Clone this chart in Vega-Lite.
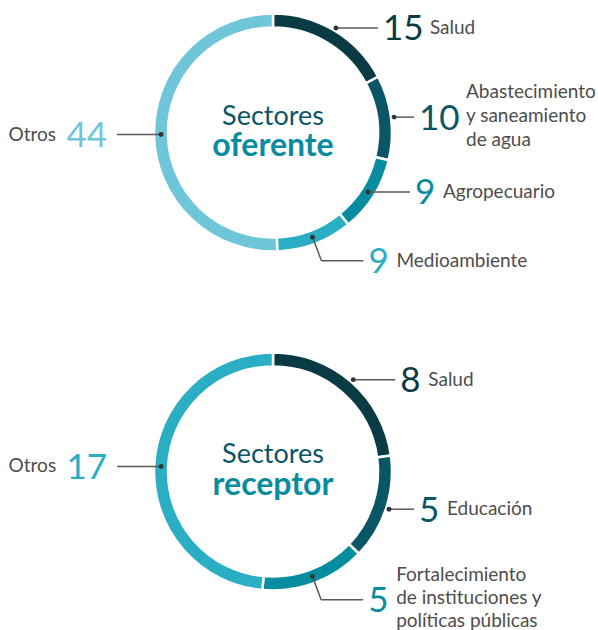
{
  "$schema": "https://vega.github.io/schema/vega-lite/v6.json",
  "padding": 0,
  "spacing": 10,
  "config": {"view": {"stroke": null}, "font": "Lato", "text": {"font": "Lato"}},
  "datasets": {
    "sectores": [
      {"grafico": "oferente", "orden": 1, "sector": "Salud", "valor": 15, "etiqueta": "Salud"},
      {"grafico": "oferente", "orden": 2, "sector": "Abastecimiento y saneamiento de agua", "valor": 10, "etiqueta": "Abastecimiento\ny saneamiento\nde agua"},
      {"grafico": "oferente", "orden": 3, "sector": "Agropecuario", "valor": 9, "etiqueta": "Agropecuario"},
      {"grafico": "oferente", "orden": 4, "sector": "Medioambiente", "valor": 9, "etiqueta": "Medioambiente"},
      {"grafico": "oferente", "orden": 5, "sector": "Otros", "valor": 44, "etiqueta": "Otros"},
      {"grafico": "receptor", "orden": 1, "sector": "Salud", "valor": 8, "etiqueta": "Salud"},
      {"grafico": "receptor", "orden": 2, "sector": "Educación", "valor": 5, "etiqueta": "Educación"},
      {"grafico": "receptor", "orden": 3, "sector": "Fortalecimiento de instituciones y políticas públicas", "valor": 5, "etiqueta": "Fortalecimiento\nde instituciones y\npolíticas públicas"},
      {"grafico": "receptor", "orden": 4, "sector": "Otros", "valor": 17, "etiqueta": "Otros"}
    ]
  },
  "vconcat": [
    {
      "width": 546,
      "height": 280,
      "data": {"name": "sectores"},
      "transform": [
        {"filter": "datum.grafico == 'oferente'"},
        {"joinaggregate": [{"op": "sum", "field": "valor", "as": "total"}]},
        {"window": [{"op": "sum", "field": "valor", "as": "acum"}], "sort": [{"field": "orden"}], "frame": [null, 0]},
        {"calculate": "(datum.acum - datum.valor / 2) / datum.total * 2 * PI", "as": "ang"},
        {"calculate": "datum.ang < 2 ? 122 : 112", "as": "rp"},
        {"calculate": "datum.rp * sin(datum.ang)", "as": "px"},
        {"calculate": "-datum.rp * cos(datum.ang)", "as": "py"},
        {"calculate": "cos(datum.ang) < -0.75", "as": "codo"},
        {"calculate": "datum.codo ? 137 * sin(datum.ang) : datum.px", "as": "cx"},
        {"calculate": "datum.codo ? -137 * cos(datum.ang) : datum.py", "as": "cy"},
        {"calculate": "sin(datum.ang) >= 0 ? 1 : -1", "as": "lado"},
        {"calculate": "datum.lado > 0 ? min(datum.cx + 42, 141) : datum.cx - 44", "as": "fx"},
        {"calculate": "datum.fx + (datum.lado > 0 ? 5 : -10)", "as": "nx"},
        {"calculate": "datum.nx + datum.lado * (length(toString(datum.valor)) * 19 + (datum.lado > 0 ? 9 : 13))", "as": "lx"},
        {"calculate": "datum.cy - (length(split(datum.etiqueta, '\\n')) - 1) * 12.5", "as": "ly"}
      ],
      "layer": [
        {
          "mark": {"type": "arc", "outerRadius": 119, "innerRadius": 105, "stroke": "white", "strokeWidth": 2.5},
          "encoding": {
            "x": {"datum": 0, "type": "quantitative", "axis": null, "scale": {"domain": [-273, 273], "nice": false, "zero": false}},
            "y": {"datum": 0, "type": "quantitative", "axis": null, "scale": {"domain": [-132.5, 147.5], "reverse": true, "nice": false, "zero": false}},
            "theta": {"field": "valor", "type": "quantitative", "stack": true},
            "order": {"field": "orden", "type": "quantitative"},
            "color": {"field": "orden", "type": "ordinal", "legend": null, "scale": {"domain": [1, 2, 3, 4, 5], "range": ["#0a3b45", "#0b5666", "#078d9f", "#29aec4", "#6ec6d8"]}}
          }
        },
        {
          "mark": {"type": "rule", "color": "#5a5a5a", "strokeWidth": 1.5},
          "encoding": {
            "x": {"field": "px", "type": "quantitative", "axis": null},
            "y": {"field": "py", "type": "quantitative", "axis": null},
            "x2": {"field": "cx"},
            "y2": {"field": "cy"}
          }
        },
        {
          "mark": {"type": "rule", "color": "#5a5a5a", "strokeWidth": 1.5},
          "encoding": {
            "x": {"field": "cx", "type": "quantitative", "axis": null},
            "x2": {"field": "fx"},
            "y": {"field": "cy", "type": "quantitative", "axis": null}
          }
        },
        {
          "mark": {"type": "circle", "color": "#333333", "opacity": 1, "size": 24},
          "encoding": {
            "x": {"field": "px", "type": "quantitative", "axis": null},
            "y": {"field": "py", "type": "quantitative", "axis": null}
          }
        },
        {
          "transform": [{"filter": "datum.lado > 0"}],
          "mark": {"type": "text", "align": "left", "baseline": "middle", "fontSize": 35, "dy": 1.5},
          "encoding": {
            "x": {"field": "nx", "type": "quantitative", "axis": null},
            "y": {"field": "cy", "type": "quantitative", "axis": null},
            "text": {"field": "valor", "type": "quantitative"},
            "color": {"field": "orden", "type": "ordinal", "legend": null}
          }
        },
        {
          "transform": [{"filter": "datum.lado > 0"}],
          "mark": {"type": "text", "align": "left", "baseline": "middle", "fontSize": 19, "color": "#4d4d4d", "lineBreak": "\n", "lineHeight": 24},
          "encoding": {
            "x": {"field": "lx", "type": "quantitative", "axis": null},
            "y": {"field": "ly", "type": "quantitative", "axis": null},
            "text": {"field": "etiqueta", "type": "nominal"}
          }
        },
        {
          "transform": [{"filter": "datum.lado < 0"}],
          "mark": {"type": "text", "align": "right", "baseline": "middle", "fontSize": 35, "dy": 1.5},
          "encoding": {
            "x": {"field": "nx", "type": "quantitative", "axis": null},
            "y": {"field": "cy", "type": "quantitative", "axis": null},
            "text": {"field": "valor", "type": "quantitative"},
            "color": {"field": "orden", "type": "ordinal", "legend": null}
          }
        },
        {
          "transform": [{"filter": "datum.lado < 0"}],
          "mark": {"type": "text", "align": "right", "baseline": "middle", "fontSize": 19, "color": "#4d4d4d", "lineBreak": "\n", "lineHeight": 24},
          "encoding": {
            "x": {"field": "lx", "type": "quantitative", "axis": null},
            "y": {"field": "ly", "type": "quantitative", "axis": null},
            "text": {"field": "etiqueta", "type": "nominal"}
          }
        },
        {
          "transform": [{"filter": "datum.orden == 1"}],
          "mark": {"type": "text", "align": "center", "baseline": "alphabetic", "fontSize": 27, "color": "#0b5666", "text": "Sectores", "dy": -8},
          "encoding": {
            "x": {"datum": 0, "type": "quantitative", "axis": null},
            "y": {"datum": 0, "type": "quantitative", "axis": null}
          }
        },
        {
          "transform": [{"filter": "datum.orden == 1"}],
          "mark": {"type": "text", "align": "center", "baseline": "alphabetic", "fontSize": 32, "fontWeight": "bold", "color": "#078d9f", "dy": 23.5},
          "encoding": {
            "x": {"datum": 0, "type": "quantitative", "axis": null},
            "y": {"datum": 0, "type": "quantitative", "axis": null},
            "text": {"field": "grafico", "type": "nominal"}
          }
        }
      ]
    },
    {
      "width": 546,
      "height": 340,
      "data": {"name": "sectores"},
      "transform": [
        {"filter": "datum.grafico == 'receptor'"},
        {"joinaggregate": [{"op": "sum", "field": "valor", "as": "total"}]},
        {"window": [{"op": "sum", "field": "valor", "as": "acum"}], "sort": [{"field": "orden"}], "frame": [null, 0]},
        {"calculate": "(datum.acum - datum.valor / 2) / datum.total * 2 * PI", "as": "ang"},
        {"calculate": "datum.ang < 2 ? 122 : 112", "as": "rp"},
        {"calculate": "datum.rp * sin(datum.ang)", "as": "px"},
        {"calculate": "-datum.rp * cos(datum.ang)", "as": "py"},
        {"calculate": "cos(datum.ang) < -0.75", "as": "codo"},
        {"calculate": "datum.codo ? 137 * sin(datum.ang) : datum.px", "as": "cx"},
        {"calculate": "datum.codo ? -137 * cos(datum.ang) : datum.py", "as": "cy"},
        {"calculate": "sin(datum.ang) >= 0 ? 1 : -1", "as": "lado"},
        {"calculate": "datum.lado > 0 ? min(datum.cx + 42, 141) : datum.cx - 44", "as": "fx"},
        {"calculate": "datum.fx + (datum.lado > 0 ? 5 : -10)", "as": "nx"},
        {"calculate": "datum.nx + datum.lado * (length(toString(datum.valor)) * 19 + (datum.lado > 0 ? 9 : 13))", "as": "lx"},
        {"calculate": "datum.cy - (length(split(datum.etiqueta, '\\n')) - 1) * 12.5", "as": "ly"}
      ],
      "layer": [
        {
          "mark": {"type": "arc", "outerRadius": 119, "innerRadius": 105, "stroke": "white", "strokeWidth": 2.5},
          "encoding": {
            "x": {"datum": 0, "type": "quantitative", "axis": null, "scale": {"domain": [-273, 273], "nice": false, "zero": false}},
            "y": {"datum": 0, "type": "quantitative", "axis": null, "scale": {"domain": [-180.5, 159.5], "reverse": true, "nice": false, "zero": false}},
            "theta": {"field": "valor", "type": "quantitative", "stack": true},
            "order": {"field": "orden", "type": "quantitative"},
            "color": {"field": "orden", "type": "ordinal", "legend": null, "scale": {"domain": [1, 2, 3, 4, 5], "range": ["#0a3b45", "#0b5666", "#078d9f", "#29aec4", "#6ec6d8"]}}
          }
        },
        {
          "mark": {"type": "rule", "color": "#5a5a5a", "strokeWidth": 1.5},
          "encoding": {
            "x": {"field": "px", "type": "quantitative", "axis": null},
            "y": {"field": "py", "type": "quantitative", "axis": null},
            "x2": {"field": "cx"},
            "y2": {"field": "cy"}
          }
        },
        {
          "mark": {"type": "rule", "color": "#5a5a5a", "strokeWidth": 1.5},
          "encoding": {
            "x": {"field": "cx", "type": "quantitative", "axis": null},
            "x2": {"field": "fx"},
            "y": {"field": "cy", "type": "quantitative", "axis": null}
          }
        },
        {
          "mark": {"type": "circle", "color": "#333333", "opacity": 1, "size": 24},
          "encoding": {
            "x": {"field": "px", "type": "quantitative", "axis": null},
            "y": {"field": "py", "type": "quantitative", "axis": null}
          }
        },
        {
          "transform": [{"filter": "datum.lado > 0"}],
          "mark": {"type": "text", "align": "left", "baseline": "middle", "fontSize": 35, "dy": 1.5},
          "encoding": {
            "x": {"field": "nx", "type": "quantitative", "axis": null},
            "y": {"field": "cy", "type": "quantitative", "axis": null},
            "text": {"field": "valor", "type": "quantitative"},
            "color": {"field": "orden", "type": "ordinal", "legend": null}
          }
        },
        {
          "transform": [{"filter": "datum.lado > 0"}],
          "mark": {"type": "text", "align": "left", "baseline": "middle", "fontSize": 19, "color": "#4d4d4d", "lineBreak": "\n", "lineHeight": 23},
          "encoding": {
            "x": {"field": "lx", "type": "quantitative", "axis": null},
            "y": {"field": "ly", "type": "quantitative", "axis": null},
            "text": {"field": "etiqueta", "type": "nominal"}
          }
        },
        {
          "transform": [{"filter": "datum.lado < 0"}],
          "mark": {"type": "text", "align": "right", "baseline": "middle", "fontSize": 35, "dy": 1.5},
          "encoding": {
            "x": {"field": "nx", "type": "quantitative", "axis": null},
            "y": {"field": "cy", "type": "quantitative", "axis": null},
            "text": {"field": "valor", "type": "quantitative"},
            "color": {"field": "orden", "type": "ordinal", "legend": null}
          }
        },
        {
          "transform": [{"filter": "datum.lado < 0"}],
          "mark": {"type": "text", "align": "right", "baseline": "middle", "fontSize": 19, "color": "#4d4d4d", "lineBreak": "\n", "lineHeight": 23},
          "encoding": {
            "x": {"field": "lx", "type": "quantitative", "axis": null},
            "y": {"field": "ly", "type": "quantitative", "axis": null},
            "text": {"field": "etiqueta", "type": "nominal"}
          }
        },
        {
          "transform": [{"filter": "datum.orden == 1"}],
          "mark": {"type": "text", "align": "center", "baseline": "alphabetic", "fontSize": 27, "color": "#0b5666", "text": "Sectores", "dy": -9},
          "encoding": {
            "x": {"datum": 0, "type": "quantitative", "axis": null},
            "y": {"datum": 0, "type": "quantitative", "axis": null}
          }
        },
        {
          "transform": [{"filter": "datum.orden == 1"}],
          "mark": {"type": "text", "align": "center", "baseline": "alphabetic", "fontSize": 32, "fontWeight": "bold", "color": "#078d9f", "dy": 23.5},
          "encoding": {
            "x": {"datum": 0, "type": "quantitative", "axis": null},
            "y": {"datum": 0, "type": "quantitative", "axis": null},
            "text": {"field": "grafico", "type": "nominal"}
          }
        }
      ]
    }
  ]
}
